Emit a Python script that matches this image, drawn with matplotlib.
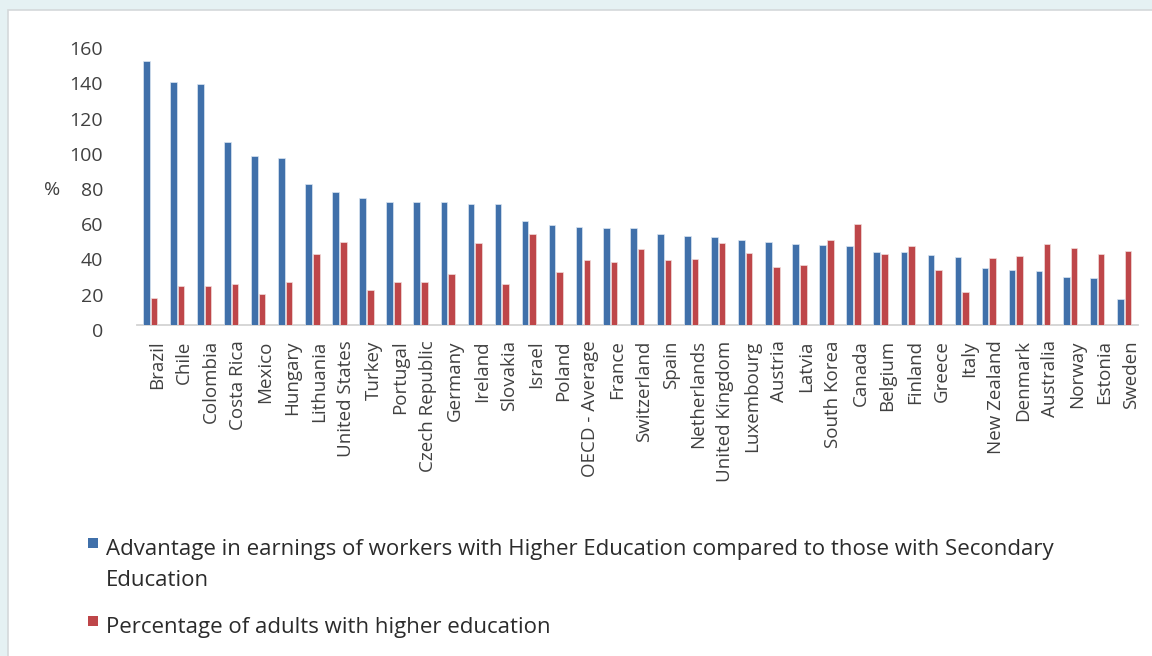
import matplotlib
matplotlib.use("Agg")
import matplotlib.pyplot as plt
import matplotlib.transforms as mtransforms
from matplotlib.patches import Rectangle
import numpy as np

countries = [
    "Brazil", "Chile", "Colombia", "Costa Rica", "Mexico", "Hungary", "Lithuania",
    "United States", "Turkey", "Portugal", "Czech Republic", "Germany", "Ireland",
    "Slovakia", "Israel", "Poland", "OECD - Average", "France", "Switzerland",
    "Spain", "Netherlands", "United Kingdom", "Luxembourg", "Austria", "Latvia",
    "South Korea", "Canada", "Belgium", "Finland", "Greece", "Italy",
    "New Zealand", "Denmark", "Australia", "Norway", "Estonia", "Sweden",
]

# Earnings advantage of tertiary-educated workers over upper-secondary (%)
earnings_advantage = [
    150.0, 137.9, 136.8, 104.1, 96.2, 95.1, 80.1,
    75.4, 72.0, 69.9, 69.9, 69.9, 68.8,
    68.6, 59.1, 56.6, 55.5, 55.3, 55.1,
    51.5, 50.6, 49.8, 48.5, 47.0, 45.9,
    45.6, 44.9, 41.6, 41.3, 39.6, 38.6,
    32.2, 31.1, 30.9, 27.3, 26.7, 14.8,
]

# Share of adults holding a higher-education degree (%)
adults_higher_ed = [
    15.2, 22.3, 22.3, 23.1, 17.4, 24.3, 40.5,
    47.0, 20.1, 24.3, 24.3, 28.8, 46.4,
    23.3, 51.7, 30.3, 37.1, 35.6, 43.2,
    36.9, 37.5, 46.4, 40.7, 32.8, 34.1,
    48.1, 57.4, 40.5, 44.7, 31.3, 18.6,
    37.9, 39.2, 45.9, 43.6, 40.2, 42.0,
]

y_ticks = [0, 20, 40, 60, 80, 100, 120, 140, 160]

legend_labels = [
    "Advantage in earnings of workers with Higher Education compared to those with Secondary\nEducation",
    "Percentage of adults with higher education",
]

BLUE = "#4070aa"
RED = "#be4649"
TEXT = "#404040"
PAGE_BG = "#e5f1f3"

W, H, DPI = 1152, 656, 100
fig = plt.figure(figsize=(W / DPI, H / DPI), dpi=DPI)
fig.patch.set_facecolor(PAGE_BG)

# white card holding the chart
card = Rectangle((8 / W, -0.01), 1, 1.01 - 10 / H, transform=fig.transFigure,
                 facecolor="white", edgecolor="#d4d8da", linewidth=1.2, zorder=-5)
fig.add_artist(card)

ax = fig.add_axes([136.5 / W, 1 - 325 / H, (1137.7 - 136.5) / W, (325 - 43.4) / H])
ax.set_zorder(2)
ax.set_facecolor("none")

x = np.arange(len(countries))
bw = 0.245
off = 0.142
ax.bar(x - off, earnings_advantage, width=bw, color=BLUE,
       edgecolor="#dbe5f1", linewidth=0.5, zorder=3)
ax.bar(x + off, adults_higher_ed, width=bw, color=RED,
       edgecolor="#f2dcdb", linewidth=0.5, zorder=3)

ax.set_xlim(-0.5, len(countries) - 0.5)
ax.set_ylim(0, 160)
ax.set_yticks(y_ticks)
ax.set_yticklabels([str(v) for v in y_ticks])
ax.set_xticks(x)
ax.set_xticklabels(countries, rotation=90, ha="center", va="top")

for side in ("top", "right", "left"):
    ax.spines[side].set_visible(False)
ax.spines["bottom"].set_color("#d3d3d3")
ax.spines["bottom"].set_linewidth(1.3)

ax.tick_params(axis="both", length=0, colors=TEXT)
ax.tick_params(axis="y", pad=24)
ax.tick_params(axis="x", pad=11)

for lab in ax.get_yticklabels():
    lab.set_fontfamily("Open Sans")
    lab.set_fontsize(14)
    lab.set_transform(lab.get_transform() +
                      mtransforms.ScaledTranslation(0, -3.5 / 72, fig.dpi_scale_trans))
for lab in ax.get_xticklabels():
    lab.set_fontfamily("Open Sans")
    lab.set_fontsize(13.5)
    lab.set_transform(lab.get_transform() +
                      mtransforms.ScaledTranslation(5 / 72, 0, fig.dpi_scale_trans))

fig.text(52 / W, 1 - 190 / H, "%", fontsize=14, family="Open Sans",
         color=TEXT, ha="center", va="center", zorder=3)

# legend entries: small square keys with wrapped text
entries = [(BLUE, legend_labels[0], 538), (RED, legend_labels[1], 616)]
for col, lbl, ytop in entries:
    fig.add_artist(Rectangle((88 / W, 1 - (ytop + 10) / H), 10 / W, 10 / H,
                             transform=fig.transFigure, facecolor=col,
                             edgecolor="none", zorder=3))
    fig.text(106 / W, 1 - (ytop + 1) / H, lbl, fontsize=16, family="Open Sans",
             color="#2b2b2b", ha="left", va="top", linespacing=1.65, zorder=3)

fig.savefig("out.png", dpi=DPI, facecolor=fig.get_facecolor())
